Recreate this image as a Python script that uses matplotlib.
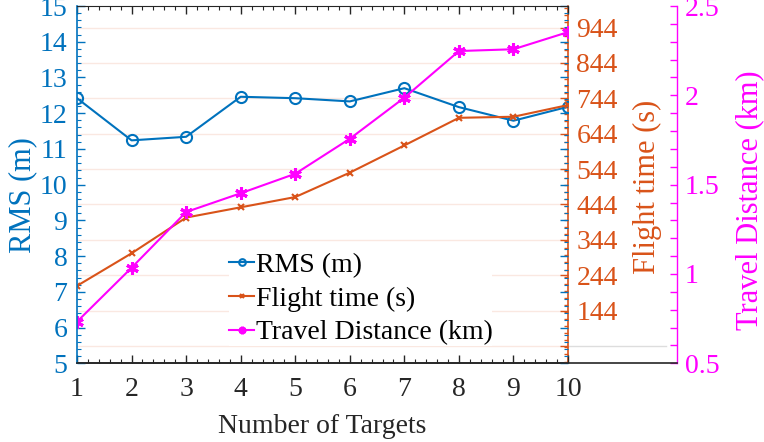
import numpy as np
import matplotlib
matplotlib.use('Agg')
import matplotlib.pyplot as plt
from matplotlib.ticker import MultipleLocator, FixedLocator, FuncFormatter

plt.rcParams['font.family'] = ['Liberation Serif', 'DejaVu Serif']
plt.rcParams['mathtext.fontset'] = 'stix'

targets = [1, 2, 3, 4, 5, 6, 7, 8, 9, 10]
rms = [12.42, 11.24, 11.34, 12.46, 12.42, 12.33, 12.70, 12.17, 11.79, 12.18]
flight_time = [214, 306, 407, 436, 465, 534, 611, 689, 692, 725]
travel_dist = [0.733, 1.035, 1.347, 1.452, 1.561, 1.757, 1.987, 2.248, 2.258, 2.354]
flight_ticks = [44, 144, 244, 344, 444, 544, 644, 744, 844, 944]

blue = '#0072BD'
orange = '#D95319'
magenta = '#FF00FF'
dark = '#262626'

fig = plt.figure(figsize=(7.64, 4.42), dpi=100)
rect = [0.1008, 0.178, 0.6427, 0.8084]

# third axis, wider, only right spine + bottom line
ax3 = fig.add_axes([rect[0], rect[1], 0.785, rect[3]])
ax3.patch.set_visible(False)
for s in ['top', 'left']:
    ax3.spines[s].set_visible(False)
ax3.spines['bottom'].set_color(dark)
ax3.spines['bottom'].set_linewidth(1.2)
ax3.spines['right'].set_color(magenta)
ax3.spines['right'].set_linewidth(1.0)
ax3.set_xticks([])
ax3.yaxis.tick_right()
ax3.yaxis.set_label_position('right')
ax3.set_ylim(0.5, 2.5)
ax3.yaxis.set_major_locator(MultipleLocator(0.5))
ax3.yaxis.set_minor_locator(MultipleLocator(0.1))
ax3.yaxis.set_major_formatter(FuncFormatter(lambda v, p: ('%g' % v)))
ax3.tick_params(axis='y', which='both', direction='in', colors=magenta,
                labelsize=20, length=5, width=1.0, pad=6)

ax = fig.add_axes(rect)
ax2 = ax.twinx()

ax.set_zorder(2)
ax.patch.set_visible(False)
ax2.set_zorder(1)

# grid from flight time ticks
ax2.set_ylim(-5, 1005)
ax2.yaxis.set_major_locator(FixedLocator(flight_ticks))
ax2.yaxis.set_minor_locator(MultipleLocator(20))
ax2.yaxis.set_major_formatter(FuncFormatter(lambda v, p: '' if v < 100 else '%d' % v))
ax2.grid(True, axis='y', color=orange, alpha=0.13, linewidth=1.0)
ax2.tick_params(axis='y', which='both', direction='in', colors=orange,
                labelsize=20, width=1.0, pad=6)
ax2.tick_params(axis='y', which='major', length=6)
ax2.tick_params(axis='y', which='minor', length=3)
ax2.plot([1.0, 1.2], [44, 44], transform=ax2.get_yaxis_transform(),
         color='#dddddd', linewidth=1.0, clip_on=False)
for s in ['left', 'top', 'bottom']:
    ax2.spines[s].set_visible(False)
ax2.spines['right'].set_color(orange)
ax2.spines['right'].set_linewidth(1.2)

# data on main axes (all drawn there so they sit above grid)
l1, = ax.plot(targets, rms, color=blue, marker='o', markersize=8,
              markerfacecolor='none', markeredgewidth=1.5, linewidth=1.5,
              label='RMS (m)')
ft_y = [5 + (v + 5) / 1010 * 10 for v in flight_time]
l2, = ax.plot(targets, ft_y, color=orange, marker='x', markersize=5,
              markeredgewidth=1.5, linewidth=1.5, label='Flight time (s)')
td_y = [5 + (v - 0.5) / 2.0 * 10 for v in travel_dist]
l3, = ax.plot(targets, td_y, color=magenta, marker=(6, 2, 0), markersize=9,
              markeredgewidth=2.2, linewidth=1.5, label='Travel Distance (km)')

ax.set_xlim(1, 10)
ax.set_ylim(5, 15)
ax.xaxis.set_major_locator(MultipleLocator(1))
ax.xaxis.set_minor_locator(MultipleLocator(0.2))
ax.yaxis.set_major_locator(MultipleLocator(1))
ax.yaxis.set_minor_locator(MultipleLocator(0.2))
ax.tick_params(axis='x', which='both', direction='in', top=True, colors=dark,
               labelsize=20, pad=10)
ax.tick_params(axis='y', which='both', direction='in', right=True, colors=blue,
               labelsize=20, pad=7)
ax.tick_params(which='major', length=6, width=1.0)
ax.tick_params(which='minor', length=3, width=0.8)
ax.spines['left'].set_color(blue)
ax.spines['left'].set_linewidth(1.2)
ax.spines['top'].set_color(dark)
ax.spines['bottom'].set_color(dark)
ax.spines['bottom'].set_linewidth(1.2)
ax.spines['right'].set_visible(False)

ax.set_xlabel('Number of Targets', fontsize=20, color=dark)
ax.xaxis.set_label_coords(0.5, -0.142)
ax.set_ylabel('RMS (m)', fontsize=22, color=blue)
ax.yaxis.set_label_coords(-0.081, 0.471)
ax2.set_ylabel('Flight time (s)', fontsize=22, color=orange)
ax2.yaxis.set_label_coords(1.132, 0.495)
ax3.set_ylabel('Travel Distance (km)', fontsize=22, color=magenta)
ax3.yaxis.set_label_coords(1.097, 0.457)

leg = ax.legend(handles=[l1, l2, l3], loc='upper left', bbox_to_anchor=(0.31, 0.31),
                frameon=True, fancybox=False, facecolor='white', edgecolor='none',
                framealpha=1.0, fontsize=20, handlelength=0.9, handletextpad=0.05,
                labelspacing=0.3, borderpad=0.0, borderaxespad=0.0, markerscale=0.6)

fig.savefig('out.png', dpi=100)
